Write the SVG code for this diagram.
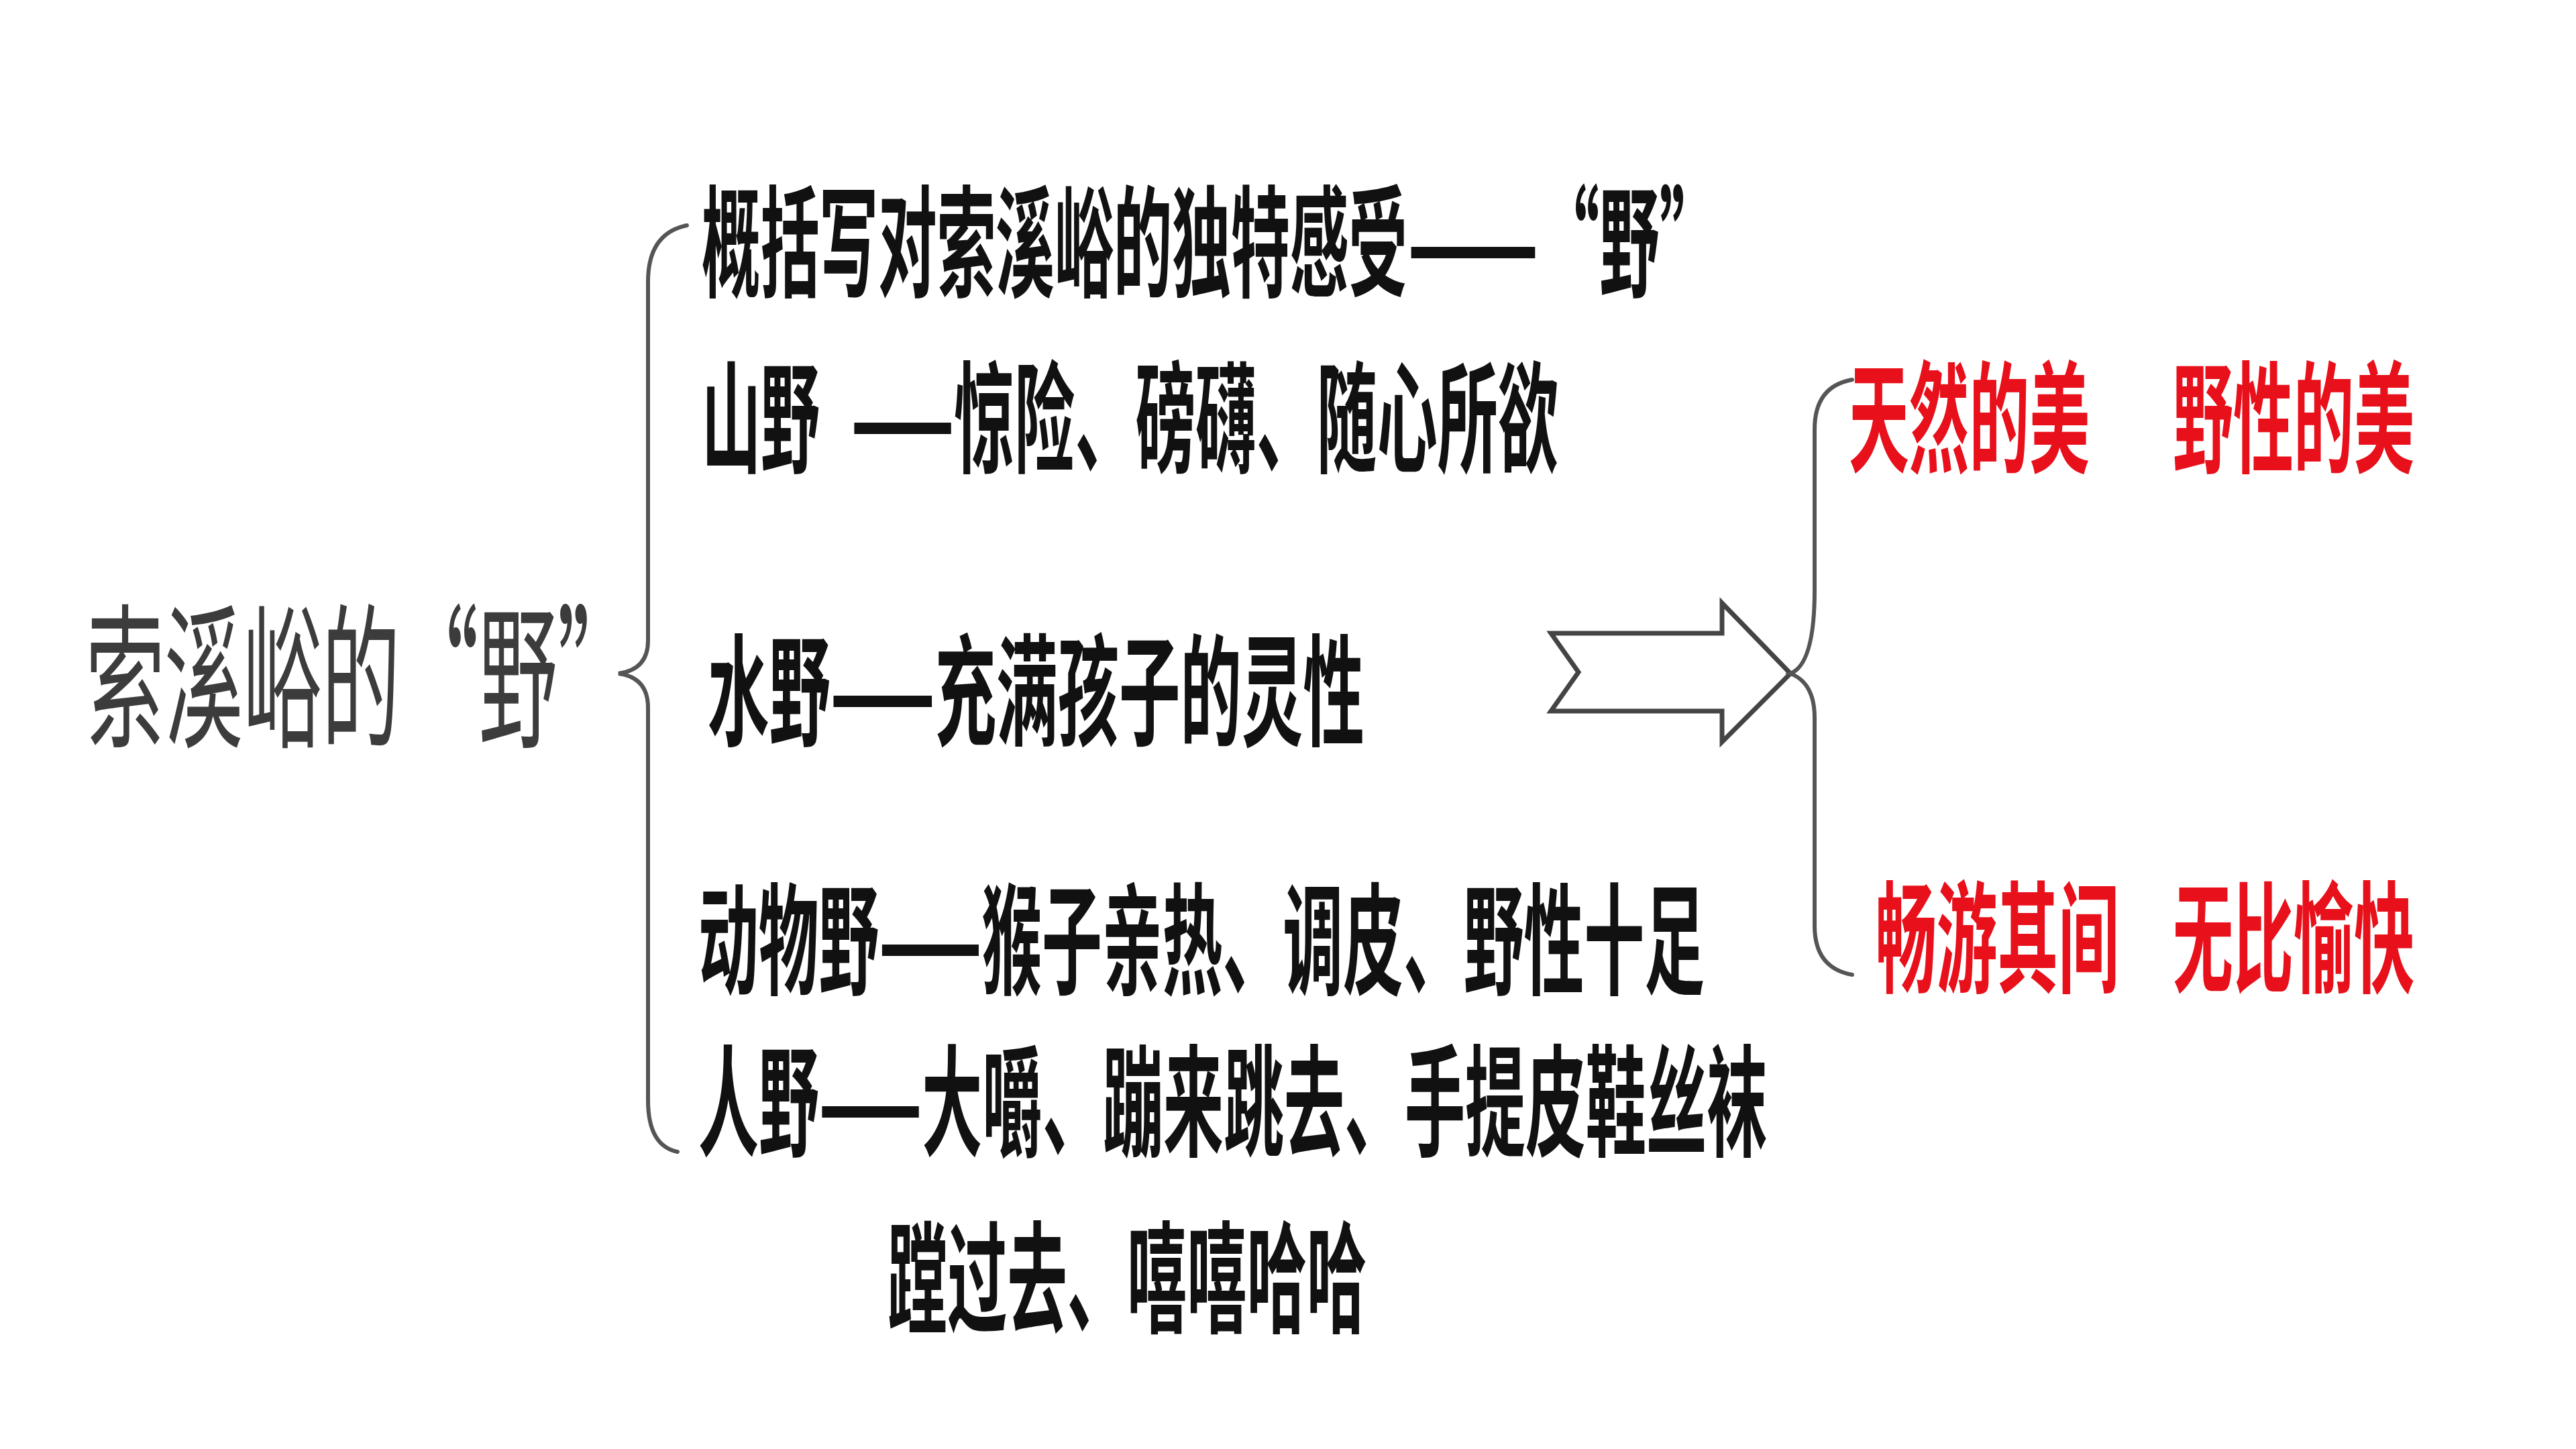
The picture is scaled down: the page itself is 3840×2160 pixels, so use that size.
<svg xmlns="http://www.w3.org/2000/svg" width="3840" height="2160" viewBox="0 0 3840 2160">
<style>
.t{font-family:"Noto Sans CJK SC","Noto Sans CJK TC",sans-serif;font-size:180px;font-weight:700;fill:#111}
.r{font-family:"Noto Sans CJK SC","Noto Sans CJK TC",sans-serif;font-size:180px;font-weight:700;fill:#e8101a}
.ttl{font-family:"Noto Sans CJK SC","Noto Sans CJK TC",sans-serif;font-size:232px;font-weight:400;fill:#3c3c3c}
.br{fill:none;stroke:#555;stroke-width:6;stroke-linecap:round}
.ar{fill:#fff;stroke:#444;stroke-width:7;stroke-linejoin:miter}
</style>
<rect width="3840" height="2160" fill="#fff"/>
<g id="title"><text class="ttl" x="128" y="1096" textLength="820" lengthAdjust="spacingAndGlyphs">索溪峪的“野”</text></g>
<g id="line1"><text class="t" x="1046" y="428" textLength="1052" lengthAdjust="spacingAndGlyphs">概括写对索溪峪的独特感受</text><text class="t" x="2098" y="428" textLength="196" lengthAdjust="spacingAndGlyphs">——</text><text class="t" x="2295" y="428" textLength="268" lengthAdjust="spacingAndGlyphs">“野”</text></g>
<g id="line2"><text class="t" x="1046" y="690" textLength="176" lengthAdjust="spacingAndGlyphs">山野</text><text class="t" x="1269" y="690" textLength="1054" lengthAdjust="spacingAndGlyphs">——惊险、磅礴、随心所欲</text></g>
<g id="line3"><text class="t" x="1055" y="1097" textLength="979" lengthAdjust="spacingAndGlyphs">水野——充满孩子的灵性</text></g>
<g id="line4"><text class="t" x="1041" y="1468" textLength="1500" lengthAdjust="spacingAndGlyphs">动物野——猴子亲热、调皮、野性十足</text></g>
<g id="line5"><text class="t" x="1041" y="1709" textLength="1593" lengthAdjust="spacingAndGlyphs">人野——大嚼、蹦来跳去、手提皮鞋丝袜</text><text class="t" x="1323" y="1972" textLength="714" lengthAdjust="spacingAndGlyphs">蹚过去、嘻嘻哈哈</text></g>
<g id="red1"><text class="r" x="2756" y="690" textLength="359" lengthAdjust="spacingAndGlyphs">天然的美</text><text class="r" x="3239" y="690" textLength="360" lengthAdjust="spacingAndGlyphs">野性的美</text></g>
<g id="red2"><text class="r" x="2796" y="1465" textLength="363" lengthAdjust="spacingAndGlyphs">畅游其间</text><text class="r" x="3239" y="1465" textLength="360" lengthAdjust="spacingAndGlyphs">无比愉快</text></g>
<g id="connectors">
<path class="br" d="M1024 336 Q966 348 966 420 L966 955 Q966 998 922 1004 Q966 1010 966 1055 L966 1640 Q966 1708 1010 1717"/>
<path class="ar" d="M2312 944 L2567 944 L2567 899 L2669 1004 L2567 1106 L2567 1060 L2312 1060 L2353 1002 Z"/>
<path class="br" d="M2761 566 Q2705 576 2705 640 L2705 880 Q2705 990 2669 1004 Q2705 1018 2705 1070 L2705 1380 Q2705 1443 2761 1453"/>
</g>
</svg>
